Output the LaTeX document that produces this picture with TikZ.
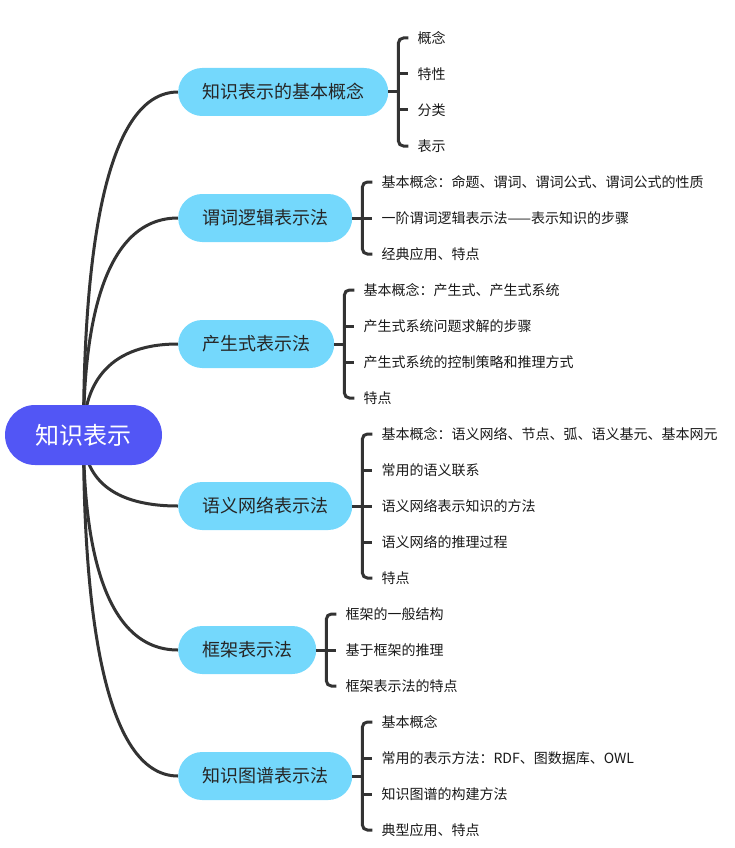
\documentclass[tikz,border=0pt]{standalone}
\usepackage{fontspec}
\setmainfont{Noto Sans CJK SC}
\usetikzlibrary{calc}
\definecolor{rootc}{RGB}{82,86,245}
\definecolor{pillc}{RGB}{116,216,252}
\definecolor{linec}{RGB}{51,51,51}
\pgfdeclarelayer{bg}
\pgfsetlayers{bg,main}
\begin{document}
\begin{tikzpicture}[x=1pt,y=-1pt,
  rootbox/.style={fill=rootc, text=white, rounded corners=30pt, minimum width=157pt, minimum height=60pt, inner sep=0pt, font=\fontsize{24}{28}\selectfont},
  pill/.style={fill=pillc, text=black!85, rounded corners=24pt, minimum height=48pt, inner xsep=24pt, inner ysep=0pt, anchor=west, font=\fontsize{18}{22}\selectfont},
  leaf/.style={anchor=west, inner sep=0pt, text=black!90, font=\fontsize{14}{17}\selectfont},
  conn/.style={draw=linec, line width=3pt},
  brace/.style={draw=linec, line width=3pt, rounded corners=5pt},
  tick/.style={draw=linec, line width=3pt}]
\useasboundingbox (0,0) rectangle (734,848);

\node[rootbox] (root) at (83.5,435) {知识表示};
\node[pill] (b1) at (178,92) {知识表示的基本概念};
\node[pill] (b2) at (178,218) {谓词逻辑表示法};
\node[pill] (b3) at (178,344) {产生式表示法};
\node[pill] (b4) at (178,506) {语义网络表示法};
\node[pill] (b5) at (178,650) {框架表示法};
\node[pill] (b6) at (178,776) {知识图谱表示法};

\foreach \i in {1,...,6} {
  \coordinate (s\i) at ([xshift=10]b\i.east);
  \coordinate (l\i) at ([xshift=29]b\i.east);
}

% branch 1
\node[leaf] (c11) at (l1 |- 0,38) {概念};
\node[leaf] (c12) at (l1 |- 0,74) {特性};
\node[leaf] (c13) at (l1 |- 0,110) {分类};
\node[leaf] (c14) at (l1 |- 0,146) {表示};
% branch 2
\node[leaf] (c21) at (l2 |- 0,182) {基本概念：命题、谓词、谓词公式、谓词公式的性质};
\node[leaf] (c22) at (l2 |- 0,218) {一阶谓词逻辑表示法——表示知识的步骤};
\node[leaf] (c23) at (l2 |- 0,254) {经典应用、特点};
% branch 3
\node[leaf] (c31) at (l3 |- 0,290) {基本概念：产生式、产生式系统};
\node[leaf] (c32) at (l3 |- 0,326) {产生式系统问题求解的步骤};
\node[leaf] (c33) at (l3 |- 0,362) {产生式系统的控制策略和推理方式};
\node[leaf] (c34) at (l3 |- 0,398) {特点};
% branch 4
\node[leaf] (c41) at (l4 |- 0,434) {基本概念：语义网络、节点、弧、语义基元、基本网元};
\node[leaf] (c42) at (l4 |- 0,470) {常用的语义联系};
\node[leaf] (c43) at (l4 |- 0,506) {语义网络表示知识的方法};
\node[leaf] (c44) at (l4 |- 0,542) {语义网络的推理过程};
\node[leaf] (c45) at (l4 |- 0,578) {特点};
% branch 5
\node[leaf] (c51) at (l5 |- 0,614) {框架的一般结构};
\node[leaf] (c52) at (l5 |- 0,650) {基于框架的推理};
\node[leaf] (c53) at (l5 |- 0,686) {框架表示法的特点};
% branch 6
\node[leaf] (c61) at (l6 |- 0,722) {基本概念};
\node[leaf] (c62) at (l6 |- 0,758) {常用的表示方法：RDF、图数据库、OWL};
\node[leaf] (c63) at (l6 |- 0,794) {知识图谱的构建方法};
\node[leaf] (c64) at (l6 |- 0,830) {典型应用、特点};

\begin{pgfonlayer}{bg}
\draw[conn] (root.center) .. controls +(0,-171) and +(-75,0) .. (b1.west);
\draw[conn] (root.center) .. controls +(0,-108) and +(-75,0) .. (b2.west);
\draw[conn] (root.center) .. controls +(0,-45) and +(-75,0) .. (b3.west);
\draw[conn] (root.center) .. controls +(0,35) and +(-75,0) .. (b4.west);
\draw[conn] (root.center) .. controls +(0,107) and +(-75,0) .. (b5.west);
\draw[conn] (root.center) .. controls +(0,170) and +(-75,0) .. (b6.west);
\end{pgfonlayer}

% brackets
\draw[brace] ([xshift=-9]c11.west) -| (s1) |- ([xshift=-9]c14.west);
\draw[tick] (b1.east) -- (s1);
\draw[tick] (s1 |- c12.west) -- ([xshift=-9]c12.west);
\draw[tick] (s1 |- c13.west) -- ([xshift=-9]c13.west);

\draw[brace] ([xshift=-9]c21.west) -| (s2) |- ([xshift=-9]c23.west);
\draw[tick] (b2.east) -- (s2);
\draw[tick] (s2 |- c22.west) -- ([xshift=-9]c22.west);

\draw[brace] ([xshift=-9]c31.west) -| (s3) |- ([xshift=-9]c34.west);
\draw[tick] (b3.east) -- (s3);
\draw[tick] (s3 |- c32.west) -- ([xshift=-9]c32.west);
\draw[tick] (s3 |- c33.west) -- ([xshift=-9]c33.west);

\draw[brace] ([xshift=-9]c41.west) -| (s4) |- ([xshift=-9]c45.west);
\draw[tick] (b4.east) -- (s4);
\draw[tick] (s4 |- c42.west) -- ([xshift=-9]c42.west);
\draw[tick] (s4 |- c43.west) -- ([xshift=-9]c43.west);
\draw[tick] (s4 |- c44.west) -- ([xshift=-9]c44.west);

\draw[brace] ([xshift=-9]c51.west) -| (s5) |- ([xshift=-9]c53.west);
\draw[tick] (b5.east) -- (s5);
\draw[tick] (s5 |- c52.west) -- ([xshift=-9]c52.west);

\draw[brace] ([xshift=-9]c61.west) -| (s6) |- ([xshift=-9]c64.west);
\draw[tick] (b6.east) -- (s6);
\draw[tick] (s6 |- c62.west) -- ([xshift=-9]c62.west);
\draw[tick] (s6 |- c63.west) -- ([xshift=-9]c63.west);
\end{tikzpicture}
\end{document}
